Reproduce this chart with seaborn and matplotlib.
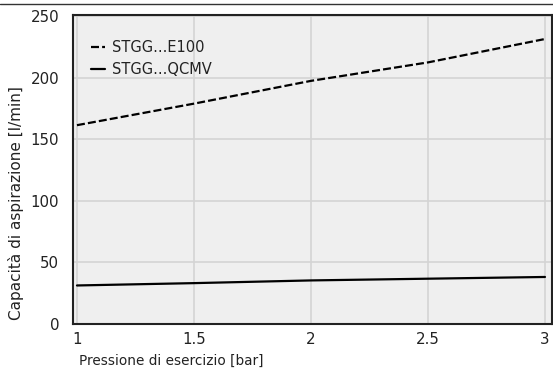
import matplotlib
matplotlib.use("Agg")
import matplotlib.pyplot as plt
from matplotlib.lines import Line2D
import seaborn as sns
import pandas as pd

# ----------------------------------------------------------------------
# Data
# ----------------------------------------------------------------------
pressure = [1.0, 1.5, 2.0, 2.5, 3.0]
flow_e100 = [161.5, 179.0, 197.5, 212.5, 231.5]
flow_qcmv = [31.3, 33.2, 35.4, 36.8, 38.2]
series_names = ["STGG...E100", "STGG...QCMV"]
x_ticks = [1, 1.5, 2, 2.5, 3]
x_tick_labels = ["1", "1.5", "2", "2.5", "3"]
y_ticks = [0, 50, 100, 150, 200, 250]

df = pd.DataFrame({
    "pressure": pressure * 2,
    "flow": flow_e100 + flow_qcmv,
    "series": [series_names[0]] * len(pressure) + [series_names[1]] * len(pressure),
})

sns.set_style("whitegrid")
plt.rcParams["font.family"] = ["DejaVu Sans"]
plt.rcParams["text.color"] = "#222222"

fig = plt.figure(figsize=(5.53, 3.72), dpi=100)
ax = fig.add_axes([73 / 553, 48 / 372, 479 / 553, 309 / 372])
ax.set_facecolor("#efefef")

sns.lineplot(data=df, x="pressure", y="flow", style="series",
             dashes={series_names[0]: (3.6, 1.4), series_names[1]: ""},
             color="black", linewidth=1.6, ax=ax)

ax.set_xlim(0.983, 3.03)
ax.set_ylim(0, 251)
ax.set_xticks(x_ticks)
ax.set_xticklabels(x_tick_labels)
ax.set_yticks(y_ticks)
ax.grid(True, color="#d4d4d4", linewidth=1.2)
ax.tick_params(axis="both", length=0, labelsize=10.8, colors="#222222")
ax.tick_params(axis="y", pad=10)
ax.tick_params(axis="x", pad=6)

for side in ax.spines.values():
    side.set_color("#222222")
    side.set_linewidth(1.5)

ax.set_xlabel("Pressione di esercizio [bar]", fontsize=9.8, color="#222222",
              ha="left", va="center")
ax.xaxis.set_label_coords(6 / 479, -37 / 309)
ax.set_ylabel("Capacità di aspirazione [l/min]", fontsize=11, color="#222222",
              va="center")
ax.yaxis.set_label_coords(-57 / 479, 0.39)

leg = ax.legend(loc="upper left", frameon=False, fontsize=10.5, handlelength=1.0,
                handletextpad=0.45, labelspacing=0.45, bbox_to_anchor=(0.01, 0.96),
                title=None)

# thin rule across the top of the picture
fig.add_artist(Line2D([0, 1], [0.988, 0.988], color="#333333", linewidth=1.0))

fig.savefig("out.png", dpi=100)
